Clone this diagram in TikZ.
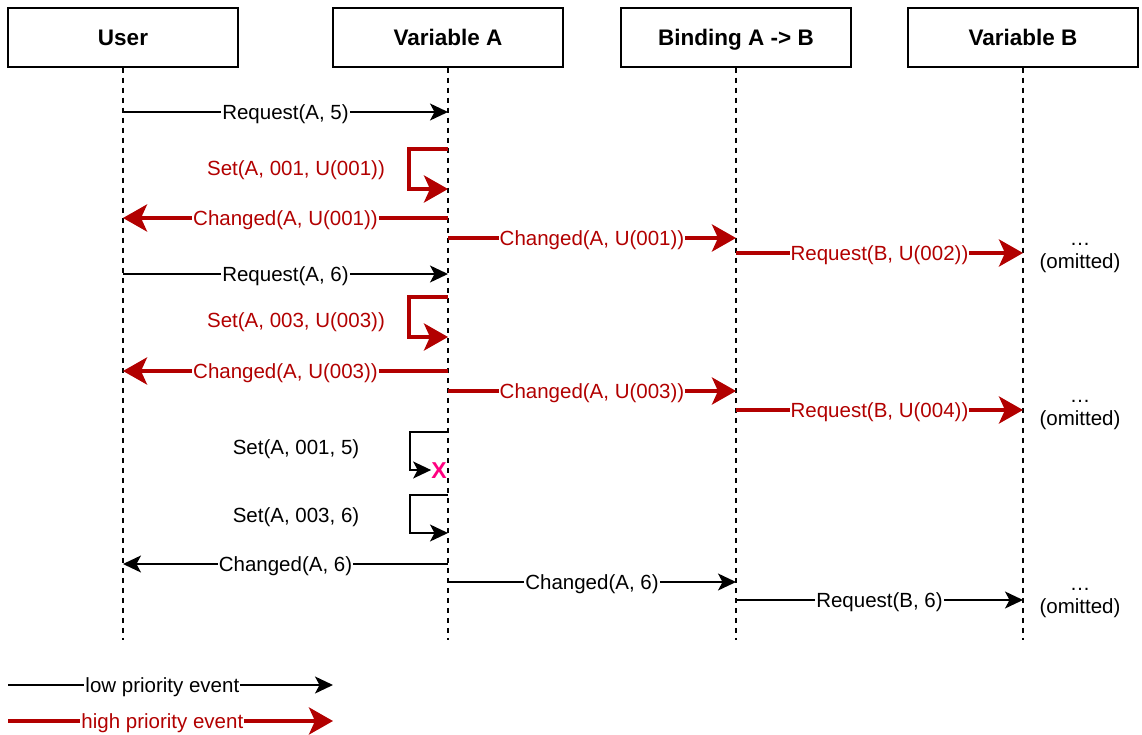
\documentclass[tikz,border=0pt]{standalone}
\usepackage{fontspec}
\setmainfont{Liberation Sans}
\usetikzlibrary{arrows.meta}
\definecolor{hred}{HTML}{B20000}
\definecolor{xpink}{HTML}{FF0080}
\begin{document}
\begin{tikzpicture}[x=1pt,y=-1pt,
  hdr/.style={draw, line width=1.5pt, minimum width=230pt, minimum height=59pt, inner sep=0pt, text height=21pt, text depth=4pt, font=\fontsize{22.5}{27}\selectfont\bfseries},
  lifeline/.style={dash pattern=on 5pt off 5pt, line width=1.5pt},
  low/.style={line width=1.5pt, -{Stealth[length=18pt,width=17pt,inset=4.5pt]}},
  high/.style={draw=hred, line width=4pt, -{Stealth[length=24pt,width=27pt,inset=6pt]}},
  lbl/.style={fill=white, inner sep=1pt, text height=18.5pt, text depth=4pt, font=\fontsize{20.5}{23}\selectfont},
  hlbl/.style={lbl, text=hred},
  omit/.style={align=center, font=\fontsize{20.5}{23}\selectfont, inner sep=0pt}]
\useasboundingbox (0,0) rectangle (1142,735);
% headers
\node[hdr] (user) at (123,37.5) {User};
\node[hdr] (va) at (448,37.5) {Variable A};
\node[hdr] (bind) at (736,37.5) {Binding A -> B};
\node[hdr] (vb) at (1023,37.5) {Variable B};
% lifelines
\coordinate (userEnd) at (123,640);
\coordinate (vaEnd) at (448,640);
\coordinate (bindEnd) at (736,640);
\coordinate (vbEnd) at (1023,640);
\draw[lifeline] (user.south) -- (userEnd);
\draw[lifeline] (va.south) -- (vaEnd);
\draw[lifeline] (bind.south) -- (bindEnd);
\draw[lifeline] (vb.south) -- (vbEnd);
% first round
\draw[low] (user |- 0,112) -- node[lbl] (m1) {Request(A, 5)} (va |- 0,112);
\draw[high] (va |- 0,149) -- ++(-39,0) -- ++(0,40) -- (va |- 0,189);
\node[hlbl, fill=none] (s1) at (296,168) {Set(A, 001, U(001))};
\draw[high] (va |- 0,218) -- node[hlbl] (m2) {Changed(A, U(001))} (user |- 0,218);
\draw[high] (va |- 0,238) -- node[hlbl] (m3) {Changed(A, U(001))} (bind |- 0,238);
\draw[high] (bind |- 0,253) -- node[hlbl] (m4) {Request(B, U(002))} (vb |- 0,253);
\node[omit] (om1) at (1080,258) {\dots\\(omitted)};
% second round
\draw[low] (user |- 0,274) -- node[lbl] (m5) {Request(A, 6)} (va |- 0,274);
\draw[high] (va |- 0,297) -- ++(-39,0) -- ++(0,40) -- (va |- 0,337);
\node[hlbl, fill=none] (s2) at (296,320) {Set(A, 003, U(003))};
\draw[high] (va |- 0,371) -- node[hlbl] (m6) {Changed(A, U(003))} (user |- 0,371);
\draw[high] (va |- 0,391) -- node[hlbl] (m7) {Changed(A, U(003))} (bind |- 0,391);
\draw[high] (bind |- 0,410) -- node[hlbl] (m8) {Request(B, U(004))} (vb |- 0,410);
\node[omit] (om2) at (1080,415) {\dots\\(omitted)};
% low priority sets
\node[font=\fontsize{23}{26}\selectfont\bfseries, text=xpink, inner sep=0pt] (x1) at (439,471) {X};
\draw[low] (va |- 0,432) -- ++(-38,0) -- ++(0,38) -- (x1.west |- 0,470);
\node[lbl, fill=none] (s3) at (296,447) {Set(A, 001, 5)};
\draw[low] (va |- 0,495) -- ++(-38,0) -- ++(0,38) -- (va |- 0,533);
\node[lbl, fill=none] (s4) at (296,515) {Set(A, 003, 6)};
\draw[low] (va |- 0,564) -- node[lbl] (m9) {Changed(A, 6)} (user |- 0,564);
\draw[low] (va |- 0,582) -- node[lbl] (m10) {Changed(A, 6)} (bind |- 0,582);
\draw[low] (bind |- 0,600) -- node[lbl] (m11) {Request(B, 6)} (vb |- 0,600);
\node[omit] (om3) at (1080,603) {\dots\\(omitted)};
% legend
\coordinate (lg1s) at (8,685);
\coordinate (lg1e) at (333,685);
\coordinate (lg2s) at (8,721);
\coordinate (lg2e) at (333,721);
\draw[low] (lg1s) -- node[lbl, pos=0.475] (lt1) {low priority event} (lg1e);
\draw[high] (lg2s) -- node[hlbl, pos=0.475] (lt2) {high priority event} (lg2e);
\end{tikzpicture}
\end{document}
